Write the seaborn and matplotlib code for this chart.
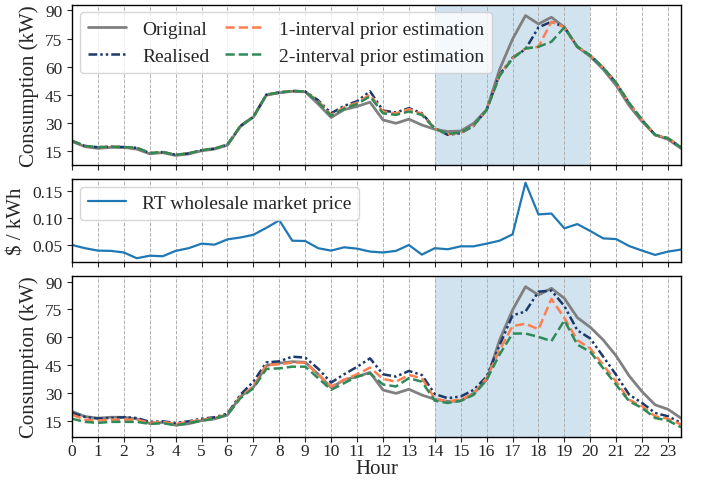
import numpy as np
import pandas as pd
import matplotlib
matplotlib.use("Agg")
import matplotlib.pyplot as plt
import seaborn as sns

hours = [0, 0.5, 1, 1.5, 2, 2.5, 3, 3.5, 4, 4.5, 5, 5.5, 6, 6.5, 7, 7.5,
         8, 8.5, 9, 9.5, 10, 10.5, 11, 11.5, 12, 12.5, 13, 13.5, 14, 14.5, 15, 15.5,
         16, 16.5, 17, 17.5, 18, 18.5, 19, 19.5, 20, 20.5, 21, 21.5, 22, 22.5, 23, 23.5]

original = [20, 17.2, 16.3, 16.8, 16.8, 15.9, 13.4, 14, 12.5, 13.3, 15, 15.9, 18, 28, 33, 44.7,
            46, 46.8, 46.5, 40, 32.8, 37, 38.7, 41, 31.5, 29.7, 31.9, 28.8, 26.5, 25.3, 25.6, 29.7,
            37, 58.5, 74.7, 87.3, 82.8, 86.4, 81, 70.6, 65.4, 58.5, 49.9, 39.1, 30.6, 23.5, 21.1, 16.3]

# Top panel
realised_1 = [20.3, 17.6, 16.9, 17.2, 17.0, 16.6, 13.8, 14.3, 12.9, 13.6, 15.3, 16.2, 18.3, 28.3, 33.2, 45,
              46.2, 47, 46.7, 42, 35, 39, 41.5, 46.8, 36.5, 35.5, 37.8, 35.1, 27, 23.5, 24.4, 28.3,
              37, 55.8, 64.8, 69.3, 81, 84, 81, 70.6, 66, 59.4, 51.3, 40.5, 31.5, 23.5, 21.7, 16.8]
est1_1 = [20.3, 17.6, 16.9, 17.2, 17.0, 16.6, 13.8, 14.3, 12.9, 13.6, 15.3, 16.2, 18.3, 28.3, 33.2, 45,
          46.2, 47, 46.7, 41.5, 34.2, 38.2, 40.7, 45, 36, 35, 37.3, 34.8, 26.8, 23.8, 24.6, 28.5,
          37, 55.5, 64.5, 69.7, 70.6, 84, 81, 70.6, 66, 59.4, 51.3, 40.5, 31.5, 23.5, 21.7, 16.8]
est2_1 = [20.3, 17.6, 16.9, 17.2, 17.0, 16.6, 13.8, 14.3, 12.9, 13.6, 15.3, 16.2, 18.3, 28.3, 33.2, 45,
          46.2, 47, 46.7, 41, 33.7, 37.5, 40, 44.1, 35, 34.2, 36, 34.2, 26.8, 24, 24.8, 28.6,
          36.8, 55, 64.3, 69.7, 70.6, 73.3, 81, 70.6, 66, 59.4, 51.3, 40.5, 31.5, 23.5, 21.7, 16.8]

# Price
price = [0.050, 0.044, 0.0395, 0.039, 0.036, 0.0253, 0.030, 0.029, 0.039, 0.044, 0.0525, 0.0506,
         0.0605, 0.064, 0.069, 0.082, 0.096, 0.058, 0.0574, 0.044, 0.0395, 0.0457, 0.0432, 0.0377,
         0.036, 0.039, 0.050, 0.032, 0.044, 0.042, 0.0475, 0.0475, 0.0525, 0.058, 0.0698, 0.166,
         0.107, 0.1086, 0.081, 0.089, 0.076, 0.0623, 0.061, 0.048, 0.0395, 0.0315, 0.0377, 0.0414]

# Bottom panel
realised_2 = [19.1, 17, 16.1, 16.4, 16.8, 16.4, 14.3, 14.6, 13.75, 14.6, 16, 16.8, 18.75, 29, 36, 46.4,
              47, 49.5, 49, 43, 35.5, 40, 44, 48.6, 40, 38.75, 41.8, 39.6, 29.3, 27.1, 28, 31.6,
              38.75, 55.7, 71.8, 73.9, 84.6, 85.2, 76.8, 63.75, 59.3, 49.5, 39.6, 29, 24.5, 19.1, 17.3, 13.75]
est1_2 = [18.2, 15.5, 15, 15.5, 15.5, 15.5, 13.75, 14.3, 13.2, 14.3, 15.5, 16.4, 18.2, 28, 33.4, 45,
          45.4, 46.25, 46.25, 40, 33.4, 37, 40, 43.6, 37.5, 36, 39.6, 37.9, 26.8, 25.4, 26.25, 29.8,
          37.9, 53, 66, 67.3, 64.3, 80.7, 70.4, 58.4, 53.9, 45, 36, 26.25, 22.7, 17.3, 16, 12.9]
est2_2 = [16, 14.3, 13.75, 14.3, 14.3, 14.3, 13.2, 13.6, 12.5, 13.6, 15, 16, 18.2, 27.1, 32.5, 42.9,
          43.2, 44.1, 44.1, 37.9, 31.6, 35.2, 38.75, 40.5, 34.5, 33.4, 37.9, 36, 25.7, 24.5, 25.7, 28.9,
          37, 50.7, 62, 62, 60.2, 57.9, 69.1, 56, 52.1, 43.2, 34.3, 25.4, 21.8, 16.4, 15, 11.4]

hour_ticks = list(range(24))
cons_ticks = [15, 30, 45, 60, 75, 90]
price_ticks = [0.05, 0.10, 0.15]

sns.set_style("ticks")
plt.rcParams['font.family'] = ['Liberation Serif', 'DejaVu Serif']
plt.rcParams['axes.linewidth'] = 1.0

C_ORIG = '#808080'
C_REAL = '#1b3a6b'
C_E1 = '#ff7f50'
C_E2 = '#2e8b57'
C_PRICE = '#1f77b4'

fig = plt.figure(figsize=(7.02, 4.81), dpi=100)
left, width = 72 / 702, 609 / 702
ax1 = fig.add_axes([left, 1 - 166 / 481, width, 160.3 / 481])
ax2 = fig.add_axes([left, 1 - 263 / 481, width, 83 / 481])
ax3 = fig.add_axes([left, 1 - 437.5 / 481, width, 160.2 / 481])

dashdotdot = (0, (3.5, 1.2, 1, 1.2, 1, 1.2))


def cons_panel(ax, real, e1, e2, legend):
    df = pd.DataFrame({'Hour': hours, 'orig': original, 'real': real, 'e1': e1, 'e2': e2})
    ax.axvspan(14, 20, color=C_PRICE, alpha=0.2, lw=0, zorder=0)
    sns.lineplot(data=df, x='Hour', y='orig', ax=ax, color=C_ORIG, lw=2.0, label='Original')
    sns.lineplot(data=df, x='Hour', y='real', ax=ax, color=C_REAL, lw=1.8,
                 linestyle=dashdotdot, label='Realised')
    sns.lineplot(data=df, x='Hour', y='e1', ax=ax, color=C_E1, lw=1.8,
                 linestyle='--', label='1-interval prior estimation')
    sns.lineplot(data=df, x='Hour', y='e2', ax=ax, color=C_E2, lw=1.8,
                 linestyle='--', label='2-interval prior estimation')
    ax.set_ylabel('Consumption (kW)', fontsize=15)
    ax.set_yticks(cons_ticks)
    if legend:
        ax.legend(ncol=2, loc='upper left', fontsize=14, columnspacing=0.8,
                  handletextpad=0.8, borderaxespad=0.4)
    else:
        leg = ax.get_legend()
        if leg is not None:
            leg.remove()


cons_panel(ax1, realised_1, est1_1, est2_1, True)
ax1.set_ylim(7.4, 93.1)

dfp = pd.DataFrame({'Hour': hours, 'price': price})
sns.lineplot(data=dfp, x='Hour', y='price', ax=ax2, color=C_PRICE, lw=1.6,
             label='RT wholesale market price')
ax2.set_ylabel('\\$ / kWh', fontsize=15)
ax2.set_yticks(price_ticks)
ax2.set_yticklabels(['0.05', '0.10', '0.15'])
ax2.legend(loc='upper left', fontsize=14, borderaxespad=0.4)

cons_panel(ax3, realised_2, est1_2, est2_2, False)
ax3.set_ylim(6.4, 92.9)

for ax in (ax1, ax2, ax3):
    ax.set_xlim(0, 23.5)
    ax.set_xticks(hour_ticks)
    ax.grid(axis='x', linestyle='--', color='#b0b0b0', lw=0.7)
    ax.tick_params(labelsize=12.5, direction='out', length=3.5, width=0.8)
    for s in ax.spines.values():
        s.set_visible(True)
        s.set_color('black')
    ax.set_xlabel('')

ax1.set_xticklabels([])
ax2.set_xticklabels([])
ax3.set_xticklabels([str(h) for h in hour_ticks])
ax3.tick_params(axis='x', pad=1.5)
ax3.set_xlabel('Hour', fontsize=15, labelpad=0)

fig.align_ylabels([ax1, ax2, ax3])
fig.savefig('out.png', dpi=100)
